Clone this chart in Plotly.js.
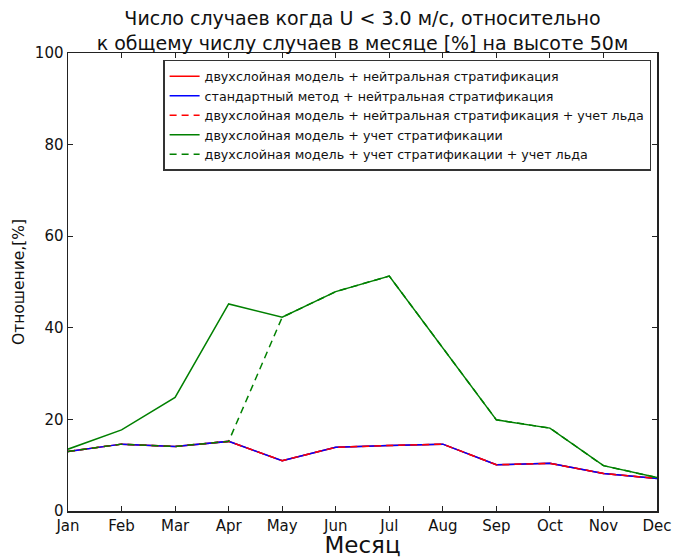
<!DOCTYPE html>
<html>
<head>
<meta charset="utf-8">
<script src="https://cdn.plot.ly/plotly-3.0.1.min.js"></script>
<style>html,body{margin:0;padding:0;background:#fff;}#chart{width:675px;height:558px;}</style>
</head>
<body>
<div id="chart"></div>
<script>
// Data
var months = ['Jan','Feb','Mar','Apr','May','Jun','Jul','Aug','Sep','Oct','Nov','Dec'];
var twoLayerNeutral   = [13.0, 14.6, 14.1, 15.2, 11.0, 13.9, 14.3, 14.6, 10.1, 10.4, 8.2, 7.1];
var standardNeutral   = [13.0, 14.6, 14.1, 15.2, 11.0, 13.9, 14.3, 14.6, 10.1, 10.4, 8.2, 7.1];
var twoLayerNeutralIce= [13.0, 14.6, 14.1, 15.2, 11.0, 13.9, 14.3, 14.6, 10.1, 10.4, 8.2, 7.1];
var twoLayerStrat     = [13.5, 17.7, 24.8, 45.2, 42.3, 47.9, 51.3, 35.7, 19.9, 18.1, 9.9, 7.3];
var twoLayerStratIce  = [13.0, 14.6, 14.1, 15.2, 42.3, 47.9, 51.3, 35.7, 19.9, 18.1, 9.9, 7.3];
var seriesNames = [
  'двухслойная модель + нейтральная стратификация',
  'стандартный метод + нейтральная стратификация',
  'двухслойная модель + нейтральная стратификация + учет льда',
  'двухслойная модель + учет стратификации',
  'двухслойная модель + учет стратификации + учет льда'
];
var yTicks = [0, 20, 40, 60, 80, 100];

var FONT = 'DejaVu Sans, sans-serif';
function tr(y, name, color, dash) {
  return {x: months, y: y, name: name, type: 'scatter', mode: 'lines',
          line: {color: color, width: 1.5, dash: dash}};
}
var traces = [
  tr(twoLayerNeutral, seriesNames[0], '#ff0000', 'solid'),
  tr(standardNeutral, seriesNames[1], '#0000ff', 'solid'),
  tr(twoLayerNeutralIce, seriesNames[2], '#ff0000', '7px,5px'),
  tr(twoLayerStrat, seriesNames[3], '#008000', 'solid'),
  tr(twoLayerStratIce, seriesNames[4], '#008000', '7px,5px')
];

var layout = {
  width: 675, height: 558,
  margin: {l: 68, r: 18, t: 53, b: 47},
  paper_bgcolor: '#fff', plot_bgcolor: '#fff',
  font: {family: FONT, color: '#000'},
  title: {
    text: 'Число случаев когда U < 3.0 м/с, относительно<br>к общему числу случаев в месяце [%] на высоте 50м',
    font: {family: FONT, size: 19, color: '#111'},
    x: 0.5, xref: 'paper', y: 0.955, yref: 'container', yanchor: 'middle'
  },
  xaxis: {
    type: 'category', categoryorder: 'array', categoryarray: months,
    range: [0, 11], showgrid: false, zeroline: false,
    showline: true, linecolor: '#222', linewidth: 1.5, mirror: 'ticks',
    ticks: 'inside', ticklen: 5, tickcolor: '#222', tickwidth: 1,
    tickfont: {family: FONT, size: 15, color: '#111'},
    title: {text: 'Месяц', font: {family: FONT, size: 23, color: '#111'}, standoff: 6}
  },
  yaxis: {
    range: [0, 100], tickvals: yTicks, showgrid: false, zeroline: false,
    showline: true, linecolor: '#222', linewidth: 1.5, mirror: 'ticks',
    ticks: 'inside', ticklen: 5, tickcolor: '#222', tickwidth: 1,
    tickfont: {family: FONT, size: 15, color: '#111'},
    title: {text: 'Отношение,[%]', font: {family: FONT, size: 15.5, color: '#111'}, standoff: 6}
  },
  legend: {
    x: 0.99, xanchor: 'right', y: 0.985, yanchor: 'top',
    bgcolor: '#fff', bordercolor: '#333', borderwidth: 1.5,
    font: {family: FONT, size: 12.7, color: '#111'},
    tracegroupgap: 0, itemwidth: 30
  },
  showlegend: true
};

Plotly.newPlot('chart', traces, layout, {displayModeBar: false, staticPlot: true});
</script>
</body>
</html>
